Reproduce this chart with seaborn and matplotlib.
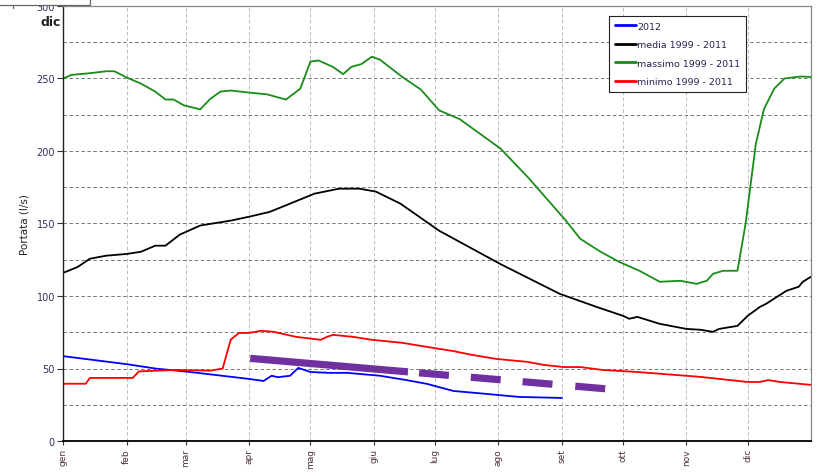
import matplotlib
matplotlib.use("Agg")
import matplotlib.pyplot as plt
import seaborn as sns
import pandas as pd
from matplotlib.patches import Rectangle

# Day-of-year positions (2012, leap year) and month labels
month_starts = [0, 31, 60, 91, 121, 152, 182, 213, 244, 274, 305, 335]
month_labels = ["gen", "feb", "mar", "apr", "mag", "giu", "lug", "ago", "set", "ott", "nov", "dic"]

# 2012 discharge (l/s)
days_2012 = [0, 31, 45, 62, 91, 98, 102, 105, 111, 115, 121, 130, 139, 155, 168, 178, 191, 207, 223, 244]
vals_2012 = [58.5, 53, 50, 47.6, 42.8, 41.4, 45, 44, 45, 50.4, 47.6, 47, 47, 45, 42, 39.4, 34.5, 32.5, 30.4, 29.7]

# Mean 1999-2011
days_media = [0, 7, 13, 21, 31, 38, 45, 50, 57, 67, 82, 91, 101, 111, 123, 135, 145, 153, 165,
              184, 214, 243, 261, 274, 277, 281, 292, 305, 312, 318, 321, 330, 335, 341, 344,
              354, 360, 362, 366]
vals_media = [116, 120, 125.7, 127.8, 129, 130.5, 134.7, 134.7, 142.3, 148.6, 152, 154.7, 158,
              163.7, 170.6, 174, 174, 172, 163.7, 145, 122, 101.5, 92.5, 86.3, 84.3, 85.6, 80.8,
              77.3, 76.7, 75.3, 77.3, 79.4, 86.3, 92.5, 94.6, 103.6, 106.4, 109.8, 113.3]

# Maximum 1999-2011
days_max = [0, 4, 12, 21, 25, 31, 38, 45, 50, 54, 59, 67, 72, 77, 82, 91, 100, 105, 109, 116,
            121, 125, 132, 137, 141, 146, 151, 155, 166, 175, 184, 194, 214, 228, 246, 253, 263,
            272, 282, 292, 302, 310, 315, 318, 323, 330, 334, 336, 339, 343, 348, 353, 361, 366]
vals_max = [250, 252.5, 253.5, 255, 255, 250.7, 246.5, 241, 235.5, 235.5, 231.5, 228.7, 236, 241,
            241.7, 240.3, 239, 237, 235.5, 243, 261.7, 262.4, 258, 253, 258, 260, 265, 263, 251,
            242.4, 228, 222, 201.7, 181, 152, 139.5, 130.5, 123.6, 117.4, 109.8, 110.5, 108.4,
            110.5, 115.3, 117.4, 117.4, 150, 172, 205, 229, 243, 250, 251.4, 251]

# Minimum 1999-2011
days_min = [0, 11, 13, 34, 37, 55, 72, 78, 82, 86, 91, 97, 103, 114, 126, 129, 132, 142, 151,
            166, 178, 191, 200, 212, 227, 235, 245, 253, 264, 281, 312, 335, 341, 345, 351, 366]
vals_min = [39.5, 39.5, 43.5, 43.5, 48, 49, 48.5, 50, 70, 74.5, 74.6, 76, 75.3, 71.8, 69.8, 71.8, 73.2,
            71.8, 69.8, 67.7, 64.9, 62, 59.4, 56.6, 54.6, 52.5, 51, 51, 49, 47.6, 44.2, 40.7,
            40.7, 42, 40.7, 38.7]

# Trend line endpoints
trend_days = [91.5, 265.5]
trend_vals = [57, 36]

series = [
    ("2012", days_2012, vals_2012, "#0000ff"),
    ("media 1999 - 2011", days_media, vals_media, "#000000"),
    ("massimo 1999 - 2011", days_max, vals_max, "#1a8c1a"),
    ("minimo 1999 - 2011", days_min, vals_min, "#ff0000"),
]

sns.set_style("white")
plt.rcParams["font.family"] = ["DejaVu Sans"]
plt.rcParams["lines.scale_dashes"] = False

W, H = 820, 477
fig = plt.figure(figsize=(W / 100, H / 100), dpi=100)
ax = fig.add_axes([63.3 / W, 35 / H, (811 - 63.3) / W, (442 - 7) / H])

for name, d, v, c in series:
    df = pd.DataFrame({"giorno": d, "portata": v})
    sns.lineplot(data=df, x="giorno", y="portata", ax=ax, color=c, lw=1.3,
                 label=name, legend=False, estimator=None, sort=False)

# Trend: long solid stroke followed by dashes
trend, = ax.plot(trend_days, trend_vals, color="#7030a0", lw=5.2,
                 solid_capstyle="butt", dash_capstyle="butt", zorder=5)
trend.set_dashes([114, 8, 21.6, 15.8, 21.6, 15.8, 21.6, 16.5, 21.6, 30])

ax.set_xlim(0, 366)
ax.set_ylim(0, 300)
ax.set_xticks(month_starts)
ax.set_xticklabels(month_labels, rotation=90, fontsize=6.5, color="#503040", va="top")
ax.set_yticks(range(0, 301, 50))
ax.set_yticks(range(25, 300, 50), minor=True)
ax.tick_params(axis="y", which="major", labelsize=7, colors="#333", labelcolor="#3a2a5a",
               length=4, width=0.8, direction="out", left=True, pad=2)
ax.tick_params(axis="y", which="minor", length=0)
ax.tick_params(axis="x", which="major", length=3, width=0.8, colors="#333",
               labelcolor="#503040", bottom=True, pad=2)

ax.set_xlabel("")
ax.set_ylabel("Portata (l/s)", fontsize=7.5, color="#222", labelpad=5)

ax.grid(True, axis="y", which="both", color="#777", lw=0.7, ls=(0, (2.5, 1.8)))
ax.grid(True, axis="x", which="major", color="#bbb", lw=0.7, ls=(0, (2.5, 1.8)))
ax.set_axisbelow(True)

for s in ["top", "right"]:
    ax.spines[s].set_color("#888")
    ax.spines[s].set_linewidth(0.9)
ax.spines["left"].set_color("#222")
ax.spines["left"].set_linewidth(1.0)
ax.spines["bottom"].set_color("#111")
ax.spines["bottom"].set_linewidth(1.4)

handles, labels = ax.get_legend_handles_labels()
leg = ax.legend(handles, labels, loc="upper left",
                bbox_to_anchor=((609 - 63.3) / (811 - 63.3), (442 - 17) / (442 - 7)),
                fontsize=6.8, frameon=True, fancybox=False, framealpha=1, edgecolor="#222",
                handlelength=2.3, handletextpad=0.1, labelspacing=1.0, borderpad=0.6,
                borderaxespad=0)
leg.get_frame().set_linewidth(0.8)
for t in leg.get_texts():
    t.set_color("#2a2050")
for h in leg.legend_handles:
    h.set_linewidth(2)

fig.text(61 / W, 1 - 22 / H, "dic", fontsize=9, fontweight="bold", ha="right", va="center",
         color="#222")

# Header box partly covering the top of the frame
fig.patches.append(Rectangle((-2 / W, 1 - 6 / H), 92 / W, 10 / H, transform=fig.transFigure,
                             facecolor="white", edgecolor="#666", lw=0.9, zorder=10))
fig.lines.append(plt.Line2D([13 / W, 13 / W], [1 - 6 / H, 1 - 9 / H], transform=fig.transFigure,
                            color="#666", lw=0.9, zorder=10))

fig.savefig("out.png", dpi=100)
